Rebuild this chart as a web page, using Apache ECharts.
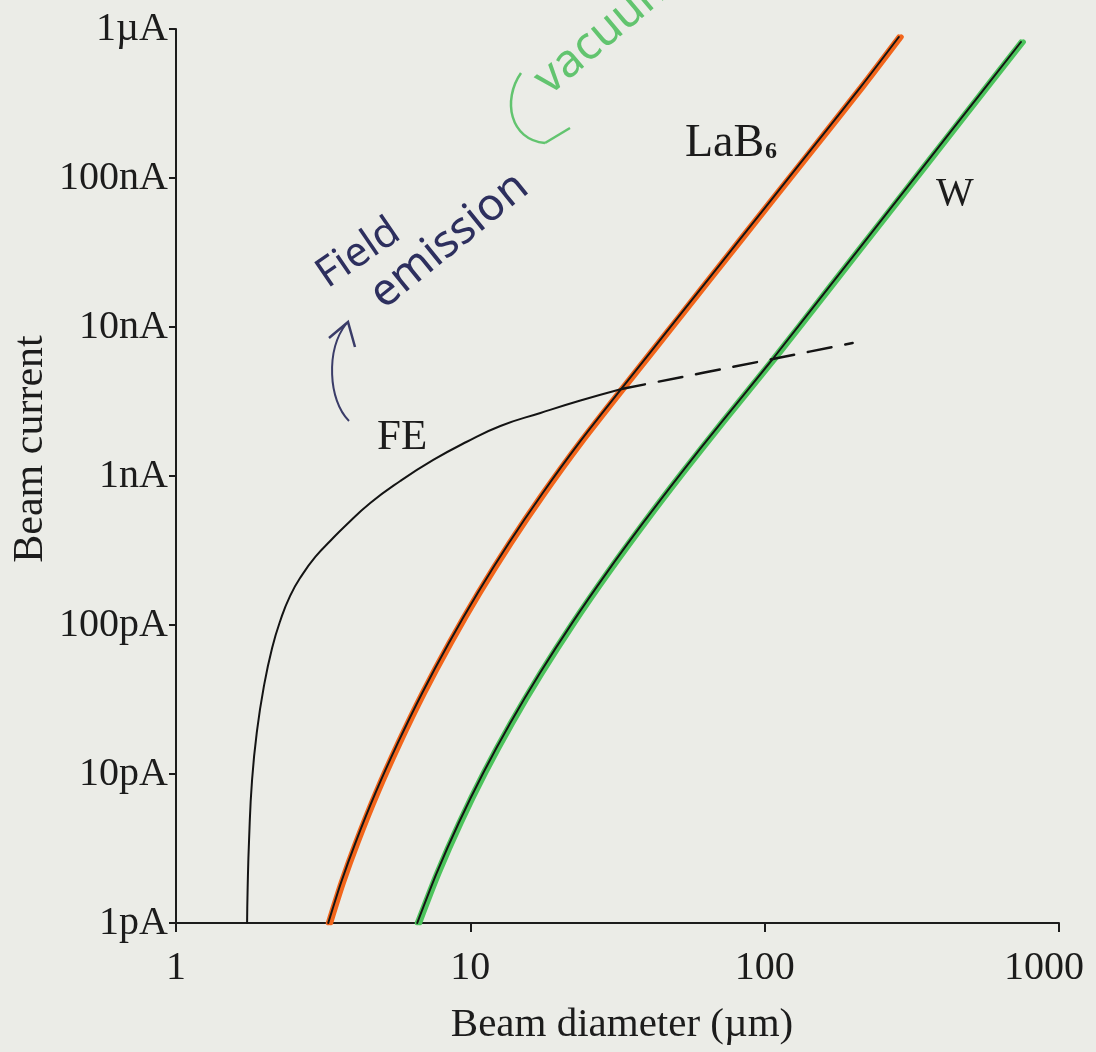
<!DOCTYPE html>
<html>
<head>
<meta charset="utf-8">
<script src="https://cdn.jsdelivr.net/npm/echarts@6/dist/echarts.min.js"></script>
<style>
html,body{margin:0;padding:0;background:#ebece7;}
#chart{width:1096px;height:1052px;}
</style>
</head>
<body>
<div id="chart"></div>
<script>
// Beam diameter (µm) vs beam current (pA)
const xTickLabels = ['1', '10', '100', '1000'];
const yTickLabels = ['1pA', '10pA', '100pA', '1nA', '10nA', '100nA', '1\u00b5A'];

const feSolid = [
  [1.744, 1], [1.751, 1.665], [1.771, 3.61], [1.813, 9.11], [1.886, 19.7],
  [1.993, 39.6], [2.121, 70.1], [2.258, 106], [2.442, 157], [2.683, 217],
  [2.994, 291], [3.341, 366], [3.756, 462], [4.571, 659], [5.780, 926],
  [7.483, 1281], [9.692, 1691], [12.65, 2166], [17.30, 2650], [23.66, 3210],
  [32.63, 3837]
];
const feDashed = [[32.63, 3837], [106.5, 6100], [199, 7810]];

const lab6 = [
  [3.29, 1], [3.633, 1.855], [4.067, 3.44], [4.761, 7.46], [5.667, 16.1],
  [6.862, 35.0], [8.452, 75.7], [10.59, 164], [13.52, 355], [17.62, 769],
  [23.41, 1666], [32.37, 3778], [51.8, 12180], [82.9, 39330],
  [132.6, 126700], [212.1, 408800], [285.6, 883800]
];
const tungsten = [
  [6.60, 1], [7.69, 2.17], [9.13, 4.69], [11.07, 10.2], [13.67, 22.0],
  [17.24, 47.6], [22.16, 103], [29.01, 223], [38.62, 484], [52.03, 1047],
  [70.96, 2268], [106.5, 6099], [167.7, 19170], [268.3, 62700],
  [429.2, 205200], [742.5, 818000]
];

const chart = echarts.init(document.getElementById('chart'));
const serif = '"Liberation Serif", "DejaVu Serif", serif';
const hand = '"Noto Sans", "DejaVu Sans", sans-serif';
const ink = '#1c1c1c';
const pen = '#2d2f5e';
const greenPen = '#62c46f';

function lineSeries(data, color, width, z, opts) {
  opts = opts || {};
  const ls = { color: color, width: width, type: opts.dash || 'solid', cap: 'round' };
  if (opts.shift) { ls.shadowColor = color; ls.shadowOffsetX = opts.shift; ls.shadowBlur = 0; }
  return {
    type: 'line', data: data, smooth: opts.smooth || 0.25,
    symbol: 'none', z: z, silent: true, lineStyle: ls
  };
}

chart.setOption({
  backgroundColor: '#ebece7',
  animation: false,
  grid: { left: 176, right: 37, top: 29, bottom: 129 },
  xAxis: {
    type: 'log', logBase: 10, min: 1, max: 1000,
    axisLine: { lineStyle: { color: ink, width: 2 } },
    axisTick: { show: true, length: 9, lineStyle: { color: ink, width: 2 } },
    splitLine: { show: false },
    axisLabel: {
      fontFamily: serif, fontSize: 40, color: ink, margin: 25,
      formatter: function (v) {
        const i = Math.round(Math.log10(v));
        return i === xTickLabels.length - 1 ? '{last|' + xTickLabels[i] + '}' : xTickLabels[i];
      },
      rich: { last: { fontFamily: serif, fontSize: 40, color: ink, padding: [0, 30, 0, 0] } }
    }
  },
  yAxis: {
    type: 'log', logBase: 10, min: 1, max: 1e6,
    axisLine: { lineStyle: { color: ink, width: 2 } },
    axisTick: { show: true, length: 7, lineStyle: { color: ink, width: 2 } },
    splitLine: { show: false },
    axisLabel: {
      fontFamily: serif, fontSize: 40, color: ink, margin: 8,
      formatter: v => yTickLabels[Math.round(Math.log10(v))]
    }
  },
  series: [
    lineSeries(lab6, '#f2661c', 5, 2, { shift: 2.5 }),
    lineSeries(tungsten, '#4dc45d', 5, 2, { shift: 2.5 }),
    lineSeries(lab6, '#141414', 2, 5),
    lineSeries(tungsten, '#141414', 2, 5),
    lineSeries(feSolid, '#141414', 2, 5, { smooth: 0.5 }),
    lineSeries(feDashed, '#141414', 2.5, 5, { dash: [24, 14] })
  ],
  graphic: [
    // axis titles
    { type: 'text', x: 622, y: 1025,
      style: { text: 'Beam diameter (\u00b5m)', font: '41px ' + serif, fill: ink, align: 'center', verticalAlign: 'middle' } },
    { type: 'text', x: 31, y: 449, rotation: Math.PI / 2,
      style: { text: 'Beam current', font: '42px ' + serif, fill: ink, align: 'center', verticalAlign: 'middle' } },
    // curve labels
    { type: 'text', x: 685, y: 144,
      style: { text: 'LaB', font: '46px ' + serif, fill: ink, align: 'left', verticalAlign: 'middle' } },
    { type: 'text', x: 765, y: 152,
      style: { text: '6', font: 'bold 24px ' + serif, fill: ink, align: 'left', verticalAlign: 'middle' } },
    { type: 'text', x: 936, y: 194,
      style: { text: 'W', font: '40px ' + serif, fill: ink, align: 'left', verticalAlign: 'middle' } },
    { type: 'text', x: 377, y: 438,
      style: { text: 'FE', font: '43px ' + serif, fill: ink, align: 'left', verticalAlign: 'middle' } },
    // handwritten notes
    { type: 'text', x: 321, y: 279, rotation: 0.6,
      style: { text: 'Field', font: '41px ' + hand, fill: pen, align: 'left', verticalAlign: 'middle' } },
    { type: 'text', x: 376, y: 300, rotation: 0.68,
      style: { text: 'emission', font: '45px ' + hand, fill: pen, align: 'left', verticalAlign: 'middle' } },
    { type: 'bezierCurve',
      shape: { x1: 349, y1: 421, cpx1: 328, cpy1: 400, cpx2: 326, cpy2: 350, x2: 346, y2: 324 },
      style: { stroke: '#3a3c68', lineWidth: 2, fill: null } },
    { type: 'polyline', shape: { points: [[329, 338], [348, 322], [355, 347]] },
      style: { stroke: '#3a3c68', lineWidth: 2.5, fill: null } },
    { type: 'bezierCurve',
      shape: { x1: 521, y1: 73, cpx1: 502, cpy1: 100, cpx2: 510, cpy2: 140, x2: 545, y2: 143 },
      style: { stroke: greenPen, lineWidth: 2.5, fill: null } },
    { type: 'line', shape: { x1: 545, y1: 143, x2: 570, y2: 128 },
      style: { stroke: greenPen, lineWidth: 2.5 } },
    { type: 'text', x: 541, y: 86, rotation: 0.70,
      style: { text: 'vacuum', font: '46px ' + hand, fill: greenPen, align: 'left', verticalAlign: 'middle' } }
  ]
});
</script>
</body>
</html>
